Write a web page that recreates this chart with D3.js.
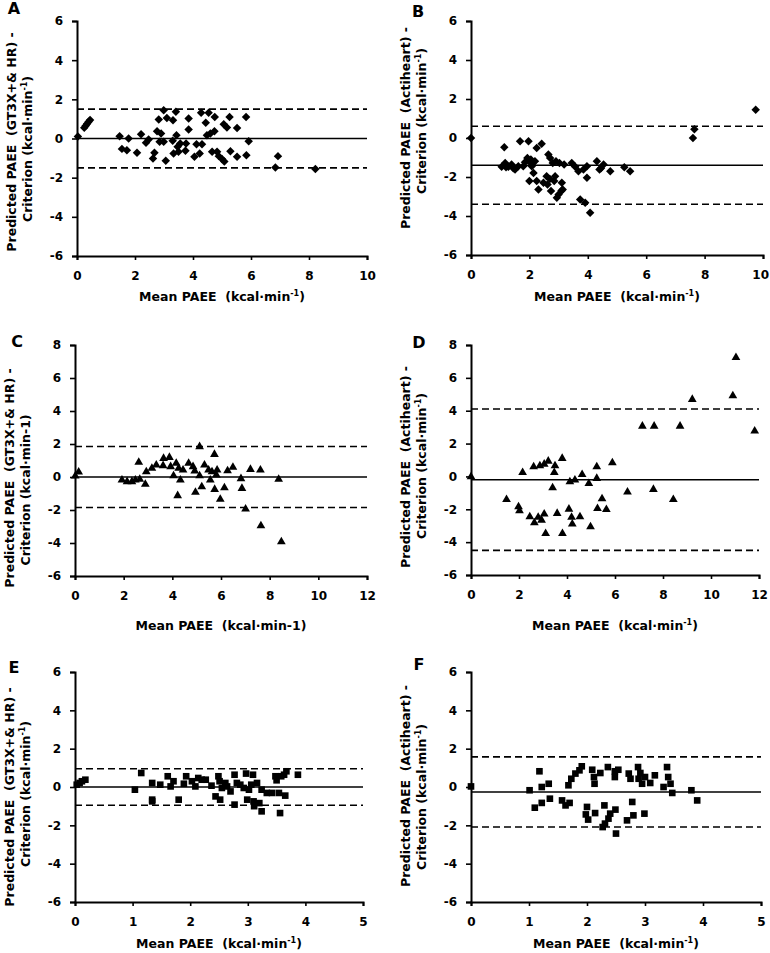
<!DOCTYPE html>
<html><head><meta charset="utf-8">
<script src="https://cdn.jsdelivr.net/npm/d3@7"></script>
<style>
html,body{margin:0;padding:0;background:#fff;}
svg text{font-family:"DejaVu Sans",Verdana,sans-serif;font-weight:bold;fill:#000;}
</style></head>
<body><svg id="c" width="770" height="953"></svg>
<script>
// ---------- data ----------
const panelLetters = ["A","B","C","D","E","F"];
const yTitleLine1 = ["Predicted PAEE  (GT3X+& HR) -","Predicted PAEE  (Actiheart) -","Predicted PAEE  (GT3X+& HR) -","Predicted PAEE  (Actiheart) -","Predicted PAEE  (GT3X+& HR) -","Predicted PAEE  (Actiheart) -"];
const superscriptUnit = [true,true,false,true,true,true];
const xTicksAB = [0,2,4,6,8,10];
const xTicksCD = [0,2,4,6,8,10,12];
const xTicksEF = [0,1,2,3,4,5];
const yTicksABEF = [-6,-4,-2,0,2,4,6];
const yTicksCD = [-6,-4,-2,0,2,4,6,8];

const aX = [0.03,0.25,0.3,0.35,0.4,0.45,1.47,1.55,1.72,1.78,2.07,2.21,2.38,2.47,2.62,2.67,2.76,2.82,2.85,2.9,2.99,2.99,3.06,3.1,3.31,3.3,3.33,3.41,3.43,3.47,3.5,3.56,3.76,3.74,3.85,3.85,4.05,4.12,4.23,4.28,4.31,4.44,4.48,4.54,4.6,4.66,4.74,4.75,4.83,4.89,5.0,5.06,5.08,5.17,5.26,5.29,5.52,5.52,5.83,5.84,5.92,6.84,6.93,8.22];
const aY = [0.1,0.55,0.65,0.75,0.85,0.95,0.12,-0.53,-0.6,0,-0.73,0.22,-0.22,-0.05,-1.02,-0.73,0.37,0.97,-0.17,0.25,1.44,-0.17,-1.14,1.05,0.93,-0.12,-0.77,1.36,0.17,-0.42,-0.68,-0.25,-0.25,-0.63,1.02,0.46,-0.93,-0.29,-0.77,1.31,-0.29,0.8,0.17,1.31,0.25,-0.68,0.37,1.1,-0.68,-0.9,-1.05,0.73,-1.17,0.56,1.1,-0.65,0.54,-0.93,1.1,-0.85,-0.14,-1.48,-0.9,-1.56];
const aLimits = [0, 1.5, -1.5];

const bX = [0,1.05,1.14,1.17,1.28,1.39,1.51,1.62,1.68,1.79,1.85,1.93,1.97,2.0,2.02,2.08,2.14,2.19,2.25,2.25,2.31,2.42,2.48,2.59,2.65,2.62,2.71,2.74,2.8,2.88,2.91,2.94,3.03,3.11,3.14,3.19,3.45,3.57,3.68,3.74,3.85,3.91,3.97,3.97,4.08,4.31,4.4,4.54,4.77,5.25,5.45,7.6,7.65,9.75,1.2,1.45,2.05,2.1,2.7,2.85,3.0,3.1,4.45];
const bY = [0,-1.48,-0.48,-1.28,-1.48,-1.36,-1.62,-1.45,-0.17,-1.45,-1.24,-1.02,-0.17,-2.21,-1.24,-1.45,-1.79,-1.19,-0.51,-2.21,-2.64,-0.29,-2.3,-1.96,-0.85,-2.38,-1.02,-2.72,-1.28,-1.96,-1.19,-3.07,-1.28,-2.3,-2.64,-1.36,-1.28,-1.48,-1.7,-3.15,-1.62,-3.32,-2.04,-1.45,-3.83,-1.19,-1.62,-1.36,-1.7,-1.5,-1.7,0,0.45,1.45,-1.5,-1.55,-1.1,-1.3,-2.1,-2.2,-2.9,-2.7,-1.55];
const bLimits = [-1.4, 0.6, -3.4];

const cX = [0.01,0.15,1.93,2.14,2.34,2.48,2.62,2.66,2.89,2.93,3.16,3.34,3.62,3.64,3.88,3.93,4.05,4.16,4.22,4.26,4.33,4.44,4.67,4.85,4.92,4.95,5.12,5.12,5.21,5.32,5.49,5.56,5.63,5.73,5.74,5.81,5.84,5.97,6.14,6.27,6.49,6.82,6.86,7.01,7.21,7.62,7.64,8.37,8.48];
const cY = [0.06,0.3,-0.18,-0.28,-0.28,-0.18,0.89,-0.14,-0.44,0.32,0.53,0.73,0.69,1.13,1.19,0.63,0.08,0.83,-1.13,0.53,-0.18,0.42,0.83,0.63,0.36,-0.93,1.84,0.08,-0.59,0.73,0.42,-0.18,0.32,1.37,-0.75,0.12,0.42,-1.35,-0.65,0.38,0.59,-0.1,-0.69,-1.94,0.46,0.42,-2.95,-0.14,-3.92];
const cLimits = [0, 1.85, -1.85];

const dX = [0,1.48,1.98,2.02,2.15,2.45,2.61,2.64,2.8,2.87,2.94,3.05,3.05,3.11,3.22,3.47,3.5,3.4,3.59,3.8,3.81,4.08,4.12,4.19,4.22,4.33,4.54,4.63,4.91,4.98,5.24,5.24,5.27,5.46,5.64,5.89,6.52,7.14,7.63,7.6,8.43,8.71,9.22,10.91,11.04,11.82];
const dY = [-0.02,-1.4,-1.85,-2.09,0.24,-2.45,0.59,-2.82,-2.49,0.65,-2.66,0.75,-2.29,-3.47,0.93,0.24,0.65,-0.69,-2.25,1.1,-3.47,-1.99,-0.32,-2.49,-2.9,-0.22,-2.45,0.12,-0.43,-3.06,0.59,-0.12,-1.95,-1.36,-2.01,0.83,-0.95,3.06,3.06,-0.79,-1.4,3.06,4.69,4.91,7.24,2.76];
const dLimits = [-0.2, 4.1, -4.5];

const eX = [0.03,0.08,0.12,0.18,1.04,1.15,1.34,1.34,1.34,1.48,1.61,1.66,1.71,1.8,1.89,1.93,2.03,2.09,2.14,2.2,2.27,2.37,2.44,2.49,2.52,2.51,2.55,2.61,2.64,2.7,2.77,2.77,2.81,2.87,2.93,2.97,2.99,3.02,3.06,3.09,3.1,3.11,3.16,3.2,3.24,3.24,3.33,3.42,3.48,3.5,3.54,3.56,3.58,3.63,3.65,3.67,3.87];
const eY = [0.12,0.21,0.3,0.38,-0.14,0.73,-0.66,0.21,-0.75,0.12,0.56,0.03,0.3,-0.66,0.17,0.56,0.3,0.03,0.47,0.38,0.38,0.07,-0.49,0.56,-0.66,0.3,-0.05,0.21,0.03,-0.23,0.64,-0.92,0.21,0.12,-0.05,0.7,-0.66,-0.14,0.12,0.64,-0.75,-1.0,0.21,-0.84,-0.14,-1.27,-0.31,-0.31,0.56,0.35,-0.31,-1.36,0.56,0.64,-0.45,0.82,0.64];
const eLimits = [0, 0.95, -0.95];

const fX = [0,1.01,1.1,1.18,1.22,1.22,1.34,1.36,1.57,1.63,1.68,1.7,1.73,1.8,1.87,1.91,2.0,1.98,2.02,2.09,2.12,2.13,2.14,2.23,2.27,2.3,2.31,2.36,2.37,2.4,2.48,2.48,2.49,2.54,2.69,2.72,2.75,2.78,2.8,2.88,2.89,2.92,2.95,2.99,3.0,3.09,3.17,3.32,3.38,3.4,3.44,3.47,3.8,3.9,2.5];
const fY = [0.03,-0.17,-1.08,0.82,0,-0.83,0.17,-0.61,-0.7,-0.96,0.09,-0.83,0.43,0.7,0.87,1.08,-1.04,-1.43,-1.7,0.9,0.52,0.17,-1.36,0.73,-2.09,-0.96,-1.91,1.04,-1.65,-1.39,0.52,0.82,-1.18,0.9,-1.74,0.7,0.43,-0.78,-1.48,1.04,0.43,0.73,0.17,-1.39,0.52,0.21,0.61,0,1.04,0.52,0.17,-0.31,-0.17,-0.7,-2.43];
const fLimits = [-0.26, 1.57, -2.09];

// ---------- layout ----------
const layout = [
  {x0:77, x1:367, yt:21, yb:256, xd:[0,10], yd:[-6,6], lx:14, ly:14, tY:[142,149], xtY:301, mk:"diamond"},
  {x0:471,x1:763, yt:21, yb:255, xd:[0,10], yd:[-6,6], lx:418,ly:17, tY:[128,121], xtY:301, mk:"diamond"},
  {x0:75, x1:367, yt:345,yb:576, xd:[0,12], yd:[-6,8], lx:17, ly:347,tY:[478,490], xtY:630, mk:"triangle"},
  {x0:471,x1:759, yt:345,yb:575, xd:[0,12], yd:[-6,8], lx:419,ly:348,tY:[467,466], xtY:630, mk:"triangle"},
  {x0:75, x1:363, yt:672,yb:902, xd:[0,5],  yd:[-6,6], lx:14, ly:673,tY:[797,794], xtY:948, mk:"square"},
  {x0:471,x1:761, yt:672,yb:902, xd:[0,5],  yd:[-6,6], lx:419,ly:670,tY:[786,797], xtY:948, mk:"square"}
];
const series = [[aX,aY,aLimits,xTicksAB,yTicksABEF],[bX,bY,bLimits,xTicksAB,yTicksABEF],
  [cX,cY,cLimits,xTicksCD,yTicksCD],[dX,dY,dLimits,xTicksCD,yTicksCD],
  [eX,eY,eLimits,xTicksEF,yTicksABEF],[fX,fY,fLimits,xTicksEF,yTicksABEF]];

const svg = d3.select("#c");

function unitText(sel, prefix, sup){
  sel.append("tspan").text(prefix + "(kcal\u00b7min");
  if(sup){
    sel.append("tspan").attr("font-size","8px").attr("dy","-5").text("-1");
    sel.append("tspan").attr("dy","5").text(")");
  } else {
    sel.append("tspan").text("-1)");
  }
}

layout.forEach((L,i)=>{
  const [xs, ys, lim, xt, yt] = series[i];
  const x = d3.scaleLinear().domain(L.xd).range([L.x0, L.x1]);
  const y = d3.scaleLinear().domain(L.yd).range([L.yb, L.yt]);
  const g = svg.append("g");

  // axes
  const ax = g.append("g").attr("transform",`translate(0,${L.yb})`)
    .call(d3.axisBottom(x).tickValues(xt).tickSizeOuter(0).tickSize(4).tickPadding(11).tickFormat(d3.format("d")));
  const ay = g.append("g").attr("transform",`translate(${L.x0},0)`)
    .call(d3.axisLeft(y).tickValues(yt).tickSizeOuter(0).tickSize(5).tickPadding(9).tickFormat(d=>d<0?"-"+Math.abs(d):String(d)));
  [ax,ay].forEach(a=>{
    a.select(".domain").attr("stroke","#000").attr("stroke-width",2);
    a.selectAll(".tick line").attr("stroke","#000").attr("stroke-width",1.6);
    a.selectAll(".tick text").style("font-size","12px").attr("fill","#000");
  });
  // keep tick labels inside the page
  ax.selectAll(".tick text").each(function(){
    const bb = this.getBBox();
    const tr = this.parentNode.getAttribute("transform");
    const tx = +tr.match(/translate\(([-\d.]+)/)[1];
    const right = tx + bb.x + bb.width;
    if(right > 769) d3.select(this).attr("dx", (769 - right) + "px");
  });

  // mean & limits
  const [m, up, lo] = lim;
  g.append("line").attr("x1",x(L.xd[0])).attr("x2",x(L.xd[1])).attr("y1",y(m)).attr("y2",y(m))
    .attr("stroke","#000").attr("stroke-width",1.6);
  [up, lo].forEach(v=>{
    g.append("line").attr("x1",x(L.xd[0])).attr("x2",x(L.xd[1])).attr("y1",y(v)).attr("y2",y(v))
      .attr("stroke","#000").attr("stroke-width",1.6).attr("stroke-dasharray","7,4");
  });

  // points
  const pts = xs.map((v,k)=>[v, ys[k]]);
  let sym;
  if(L.mk==="diamond") sym = d3.symbol().type(d3.symbolSquare).size(36);
  else if(L.mk==="triangle") sym = d3.symbol().type(d3.symbolTriangle).size(33);
  else sym = d3.symbol().type(d3.symbolSquare).size(44);
  g.selectAll("path.pt").data(pts).join("path").attr("class","pt")
    .attr("d", sym)
    .attr("transform", d=>`translate(${x(d[0])},${y(d[1])})` + (L.mk==="diamond"?" rotate(45)":""))
    .attr("fill","#000");

  // panel letter
  g.append("text").attr("x",L.lx).attr("y",L.ly).attr("text-anchor","middle")
    .style("font-size","16px").text(panelLetters[i]);

  // x title
  const xtitle = g.append("text").attr("x",(L.x0+L.x1)/2).attr("y",L.xtY).attr("text-anchor","middle")
    .style("font-size","12.5px").attr("xml:space","preserve");
  unitText(xtitle, "Mean PAEE  ", superscriptUnit[i]);

  // y title
  g.append("text").attr("transform",`translate(${L.x0-61},${L.tY[0]}) rotate(-90)`)
    .attr("text-anchor","middle").style("font-size","12.5px").attr("xml:space","preserve").text(yTitleLine1[i]);
  const t2 = g.append("text").attr("transform",`translate(${L.x0-45},${L.tY[1]}) rotate(-90)`)
    .attr("text-anchor","middle").style("font-size","12.5px").attr("xml:space","preserve");
  unitText(t2, "Criterion ", superscriptUnit[i]);
});
</script></body></html>
